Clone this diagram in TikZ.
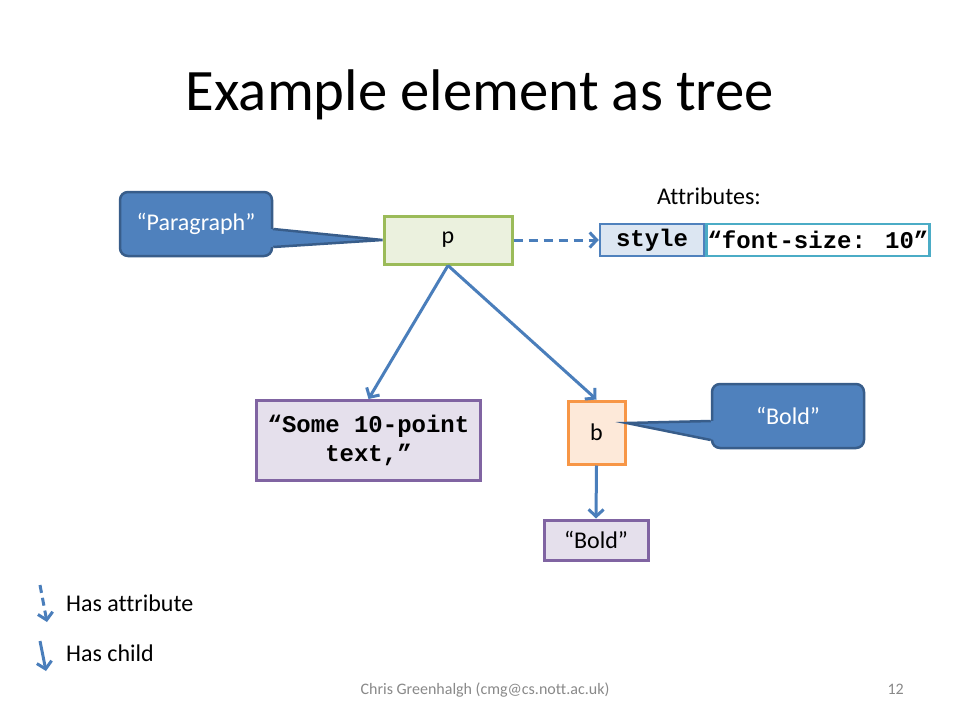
\documentclass[tikz,border=0pt]{standalone}
\usepackage{fontspec}
\setmainfont{Carlito}[Ligatures={NoCommon}]
\newfontfamily\cmono{Liberation Mono}
\usetikzlibrary{arrows.meta,calc}
\definecolor{accent}{HTML}{4F81BD}
\definecolor{accentdk}{HTML}{385D8A}
\definecolor{linecol}{HTML}{4A7EBB}
\definecolor{pfill}{HTML}{EBF1DE}
\definecolor{pdraw}{HTML}{9BBB59}
\definecolor{sfill}{HTML}{DCE6F2}
\definecolor{fsdraw}{HTML}{4BACC6}
\definecolor{vfill}{HTML}{E5E0EC}
\definecolor{vdraw}{HTML}{8064A2}
\definecolor{bfill}{HTML}{FDE9D9}
\definecolor{bdraw}{HTML}{F79646}
\definecolor{foot}{HTML}{898989}
\begin{document}
\begin{tikzpicture}[x=1pt,y=-1pt,
  lbl/.style={font=\fontsize{24}{28}\selectfont, inner sep=0pt},
  nbox/.style={draw, line width=3pt, inner sep=0pt, align=center},
  mono/.style={font=\cmono\bfseries\fontsize{24}{29}\selectfont},
  link/.style={draw=linecol, line width=3pt, -{Straight Barb[length=7pt,width=15pt]}},
  callbox/.style={draw=accentdk, fill=accent, line width=2.5pt, rounded corners=8pt,
    minimum width=152pt, minimum height=64pt, inner sep=0pt, text=white,
    font=\fontsize{24}{28}\selectfont},
  ptrfill/.style={fill=accent},
  ptrdraw/.style={draw=accentdk, line width=2.5pt, line join=miter},
]
\useasboundingbox (0,0) rectangle (960,720);
\fill[white] (0,0) rectangle (960,720);

% title
\node[anchor=base, inner sep=0pt, font=\fontsize{58.7}{64}\selectfont] (title) at (480,110) {Example element as tree};

% nodes
\node[nbox, draw=pdraw, fill=pfill, minimum width=128pt, minimum height=48pt, font=\fontsize{24}{28}\selectfont] (p) at (448,240) {p};
\node[lbl, anchor=base] (attr) at (709,204) {Attributes:};
\node[nbox, draw=accent, fill=sfill, minimum width=104pt, minimum height=32pt, mono, line width=2.5pt] (style) at (652,240) {style};
\node[nbox, draw=fsdraw, fill=white, minimum width=223pt, minimum height=32pt, mono, line width=2.5pt, anchor=west] (fs) at (style.east) {“font-size: 10”};
\node[nbox, draw=vdraw, fill=vfill, minimum width=224pt, minimum height=80pt, mono] (txt) at (368.5,440.5) {“Some 10-point\\text,”};
\node[nbox, draw=bdraw, fill=bfill, minimum width=57pt, minimum height=63pt, font=\fontsize{24}{28}\selectfont] (b) at (596.5,432.5) {b};
\node[nbox, draw=vdraw, fill=vfill, minimum width=104pt, minimum height=40pt, font=\fontsize{24}{28}\selectfont] (bold) at (596,540) {“Bold”};

% callouts
\node[callbox] (paracall) at (196,224) {“Paragraph”};
\fill[ptrfill] ($(paracall.east)+(-4,5)$) -- (p.west) -- ($(paracall.east)+(-4,23)$) -- cycle;
\draw[ptrdraw] ($(paracall.east)+(0,5)$) -- (p.west) -- ($(paracall.east)+(0,23)$);
\node[callbox] (boldcall) at (788,416) {“Bold”};
\fill[ptrfill] ($(boldcall.west)+(4,5)$) -- ($(b.east)+(0,-9.5)$) -- ($(boldcall.west)+(4,24)$) -- cycle;
\draw[ptrdraw] ($(boldcall.west)+(0,5)$) -- ($(b.east)+(0,-9.5)$) -- ($(boldcall.west)+(0,24)$);

% connectors
\draw[link, dash pattern=on 9pt off 6pt] (p.east) -- (style.west);
\draw[link] (p.south) -- (txt.north);
\draw[link] (p.south) -- (b.north);
\draw[link] (b.south) -- (bold.north);

% legend
\coordinate (la1) at (40,585);
\coordinate (la2) at (47,622);
\coordinate (lc1) at (40,641);
\coordinate (lc2) at (46,671);
\draw[link, dash pattern=on 8pt off 5pt] (la1) -- (la2);
\draw[link] (lc1) -- (lc2);
\node[lbl, anchor=base west] (hasattr) at (66,611) {Has attribute};
\node[lbl, anchor=base west] (haschild) at (66,661) {Has child};

% footer
\node[anchor=base, inner sep=0pt, text=foot, font=\fontsize{16}{19}\selectfont] (footer) at (485,694) {Chris Greenhalgh (cmg@cs.nott.ac.uk)};
\node[anchor=base east, inner sep=0pt, text=foot, font=\fontsize{16}{19}\selectfont] (pagenum) at (904,694) {12};
\end{tikzpicture}
\end{document}
